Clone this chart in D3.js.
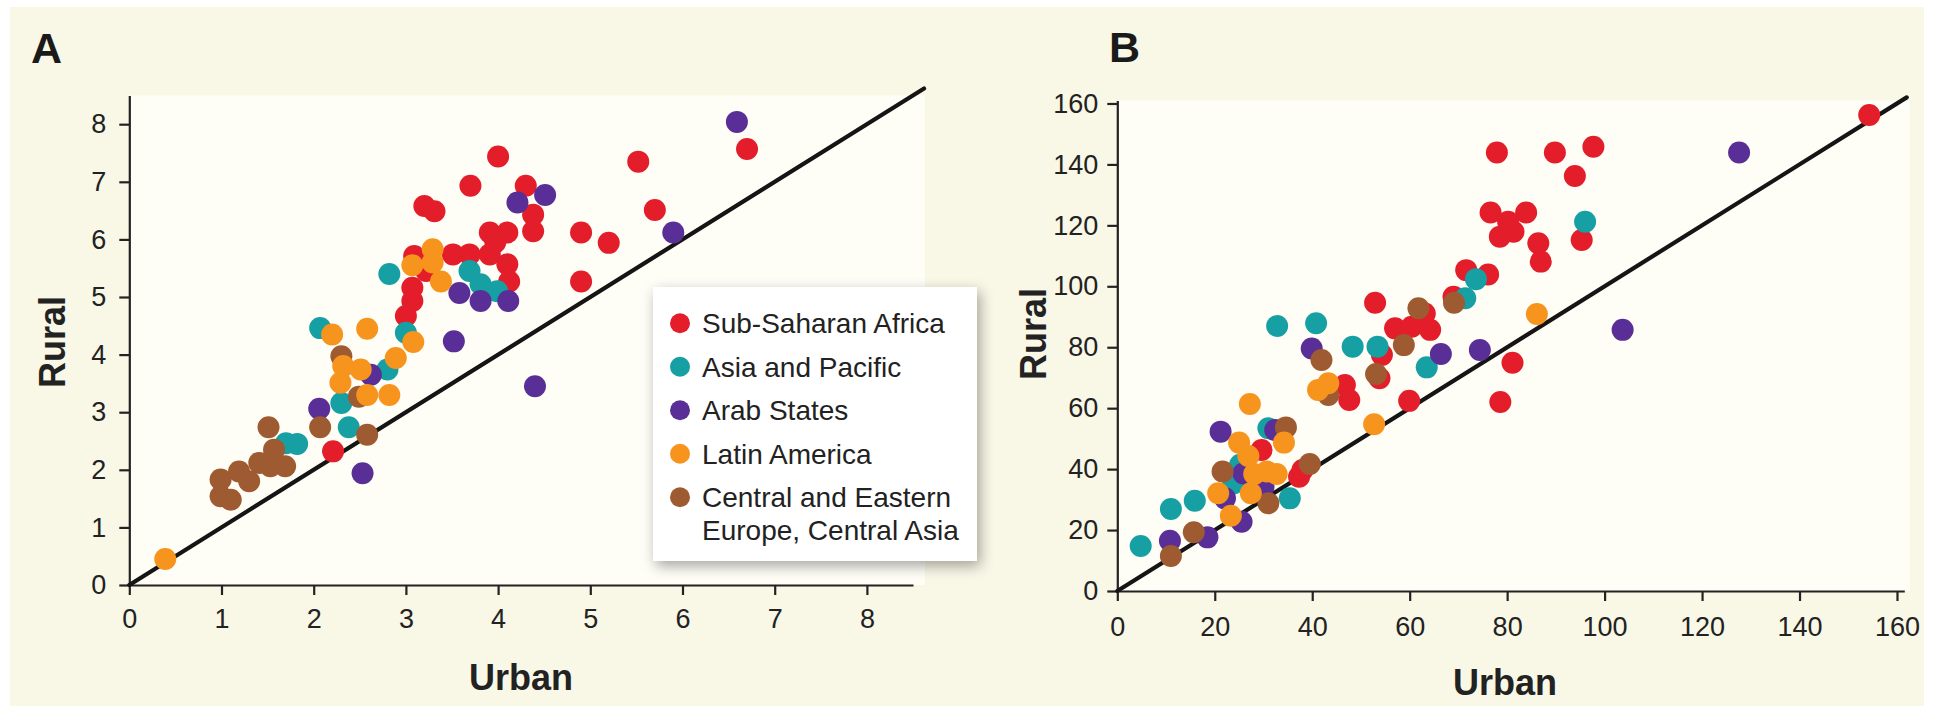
<!DOCTYPE html>
<html><head><meta charset="utf-8">
<script src="https://cdn.jsdelivr.net/npm/d3@7"></script>
<style>body{margin:0;background:#fff;} svg{display:block;}</style>
</head><body>
<svg id="c" width="1934" height="713"></svg>
<script>
// ---------- DATA ----------
const regions = ["Sub-Saharan Africa", "Asia and Pacific", "Arab States", "Latin America", "Central and Eastern Europe, Central Asia"];
const regionColors = ["#e31d2a", "#17a0a3", "#5a2e97", "#f7941e", "#9e5a30"];
const drawOrder = [0, 1, 2, 4, 3];

const aTicks = [0, 1, 2, 3, 4, 5, 6, 7, 8];
const bTicks = [0, 20, 40, 60, 80, 100, 120, 140, 160];

// Panel A: [urban, rural]
const aSubSaharan = [[4.0,7.44],[3.70,6.93],[4.30,6.93],[3.20,6.58],[3.31,6.49],[4.38,6.43],[4.38,6.14],[3.91,6.12],[4.10,6.12],[4.90,6.12],[3.97,5.95],[3.51,5.74],[3.69,5.74],[3.91,5.74],[3.09,5.71],[3.22,5.45],[4.10,5.57],[4.12,5.27],[4.90,5.27],[3.07,5.16],[3.07,4.93],[3.0,4.67],[6.70,7.57],[5.52,7.35],[5.70,6.51],[5.20,5.94],[2.21,2.32]];
const aAsiaPacific = [[3.69,5.45],[3.81,5.22],[3.99,5.10],[2.82,5.40],[3.0,4.38],[2.07,4.46],[2.80,3.74],[2.30,3.16],[2.38,2.74],[1.70,2.46],[1.82,2.45]];
const aArab = [[6.59,8.04],[4.21,6.64],[4.51,6.77],[5.90,6.12],[3.52,4.23],[3.58,5.07],[3.81,4.93],[4.11,4.93],[4.40,3.45],[2.62,3.65],[2.06,3.06],[2.53,1.94]];
const aLatin = [[3.29,5.83],[3.29,5.60],[3.07,5.55],[3.38,5.27],[3.08,4.22],[2.20,4.35],[2.58,4.45],[2.89,3.94],[2.32,3.80],[2.51,3.74],[2.29,3.51],[2.58,3.30],[2.82,3.30],[0.39,0.45]];
const aCEE = [[2.30,3.97],[2.49,3.27],[2.07,2.74],[2.58,2.61],[1.51,2.74],[1.57,2.35],[1.41,2.12],[1.53,2.06],[1.69,2.06],[1.19,1.97],[1.30,1.80],[0.99,1.83],[0.99,1.54],[1.10,1.48]];

// Panel B: [urban, rural]
const bSubSaharan = [[77.9,143.9],[89.8,143.9],[97.7,145.8],[93.9,136.2],[76.6,124.2],[83.9,124.2],[80.2,121.2],[81.3,117.9],[78.5,116.3],[86.4,114.1],[86.9,108.1],[95.3,115.2],[71.6,105.3],[76.1,103.9],[69.0,96.6],[52.9,94.6],[57.0,86.2],[60.4,86.7],[64.2,85.7],[63.1,91.1],[54.3,77.5],[46.7,67.6],[47.6,62.7],[53.8,69.8],[59.9,62.4],[81.1,74.9],[78.6,62.0],[154.3,156.2],[29.6,46.3],[37.3,37.5],[38.0,39.7]];
const bAsiaPacific = [[96.0,121.2],[73.6,102.3],[71.4,96.1],[32.8,87.0],[40.8,87.9],[48.3,80.2],[53.4,80.2],[63.5,73.4],[31.0,53.4],[25.2,41.4],[23.8,35.3],[35.4,30.4],[11.0,26.9],[15.9,29.6],[4.8,14.8]];
const bArab = [[127.6,143.9],[103.7,85.7],[39.9,79.6],[66.4,77.8],[74.4,79.1],[21.2,52.3],[32.4,52.8],[25.9,38.6],[30.0,34.2],[22.1,30.4],[25.5,22.7],[10.8,16.5],[18.5,17.6]];
const bLatin = [[86.1,90.9],[43.3,68.2],[41.2,66.0],[27.2,61.4],[52.7,54.7],[34.2,48.7],[25.0,48.7],[26.9,44.3],[28.1,38.4],[30.7,39.2],[32.7,38.4],[20.7,32.1],[27.4,32.1],[23.3,24.7]];
const bCEE = [[61.8,92.8],[69.1,94.6],[58.8,80.7],[41.9,75.8],[53.1,71.2],[43.3,64.3],[34.6,53.7],[21.6,39.2],[31.0,28.8],[39.5,41.7],[15.7,19.3],[11.0,11.5]];

const aSeries = [aSubSaharan, aAsiaPacific, aArab, aLatin, aCEE];
const bSeries = [bSubSaharan, bAsiaPacific, bArab, bLatin, bCEE];

// ---------- DRAW ----------
const font = "'Liberation Sans', Arial, Helvetica, sans-serif";
const ink = "#222";
const svg = d3.select("#c");

const defs = svg.append("defs");
const f = defs.append("filter").attr("id", "shadow").attr("x", "-20%").attr("y", "-20%").attr("width", "140%").attr("height", "140%");
f.append("feDropShadow").attr("dx", 3).attr("dy", 5).attr("stdDeviation", 7).attr("flood-color", "#000").attr("flood-opacity", 0.35);

svg.append("rect").attr("x", 10).attr("y", 7).attr("width", 1914).attr("height", 699).attr("fill", "#f9f7e6");

function panel(cfg) {
  const x = d3.scaleLinear().domain(cfg.xDomain).range(cfg.xRange);
  const y = d3.scaleLinear().domain(cfg.yDomain).range(cfg.yRange);
  const g = svg.append("g");

  g.append("rect")
    .attr("x", x(0)).attr("y", y(cfg.yDomain[1]))
    .attr("width", cfg.plotRight - x(0)).attr("height", y(0) - y(cfg.yDomain[1]))
    .attr("fill", "#fefdf6");

  const xa = g.append("g").attr("transform", `translate(0,${y(0)})`)
    .call(d3.axisBottom(x).tickValues(cfg.ticks).tickSize(10).tickSizeOuter(0).tickPadding(cfg.xPad));
  const ya = g.append("g").attr("transform", `translate(${x(0)},0)`)
    .call(d3.axisLeft(y).tickValues(cfg.ticks).tickSize(10).tickSizeOuter(0).tickPadding(cfg.yPad));
  [xa, ya].forEach(a => {
    a.select(".domain").attr("stroke", ink).attr("stroke-width", 2.2);
    a.selectAll(".tick line").attr("stroke", ink).attr("stroke-width", 2.2);
    a.selectAll(".tick text").attr("fill", ink).style("font-family", font).style("font-size", "27px");
  });

  // identity line
  g.append("line")
    .attr("x1", x(0)).attr("y1", y(0))
    .attr("x2", x(cfg.lineEnd)).attr("y2", y(cfg.lineEnd))
    .attr("stroke", "#151515").attr("stroke-width", 4.2).attr("stroke-linecap", "round");

  drawOrder.forEach(i => {
    g.append("g").selectAll("circle").data(cfg.series[i]).join("circle")
      .attr("cx", d => x(d[0])).attr("cy", d => y(d[1]))
      .attr("r", 11).attr("fill", regionColors[i]);
  });

  g.append("text").text("Urban")
    .attr("x", cfg.xTitle[0]).attr("y", cfg.xTitle[1]).attr("text-anchor", "middle")
    .style("font-family", font).style("font-size", "36px").style("font-weight", "bold").attr("fill", ink);
  g.append("text").text("Rural")
    .attr("transform", `translate(${cfg.yTitle[0]},${cfg.yTitle[1]}) rotate(-90)`).attr("text-anchor", "middle")
    .style("font-family", font).style("font-size", "36px").style("font-weight", "bold").attr("fill", ink);
  g.append("text").text(cfg.letter)
    .attr("x", cfg.letterPos[0]).attr("y", cfg.letterPos[1])
    .style("font-family", font).style("font-size", "43px").style("font-weight", "bold").attr("fill", "#1a1a1a");
}

panel({
  series: aSeries, ticks: aTicks,
  xDomain: [0, 8.5], xRange: [129.3, 129.3 + 8.5 * 92.2],
  yDomain: [0, 8.5], yRange: [585, 585 - 8.5 * 57.6],
  plotRight: 925, xPad: 14, yPad: 13, lineEnd: 8.62,
  xTitle: [521, 690], yTitle: [65, 342], letter: "A", letterPos: [31, 63]
});

panel({
  series: bSeries, ticks: bTicks,
  xDomain: [0, 161.5], xRange: [1117.3, 1117.3 + 161.5 * 4.873],
  yDomain: [0, 161], yRange: [591, 591 - 161 * 3.047],
  plotRight: 1910, xPad: 16, yPad: 9, lineEnd: 162,
  xTitle: [1505, 695], yTitle: [1046, 334], letter: "B", letterPos: [1109, 62]
});

// ---------- LEGEND ----------
const lg = svg.append("g");
lg.append("rect").attr("x", 653).attr("y", 287).attr("width", 324).attr("height", 274)
  .attr("fill", "#ffffff").attr("filter", "url(#shadow)");
const rowY = [323.3, 366.8, 410.3, 453.8, 497.3];
regions.forEach((name, i) => {
  lg.append("circle").attr("cx", 680).attr("cy", rowY[i]).attr("r", 10).attr("fill", regionColors[i]);
  const t = lg.append("text").attr("x", 702).attr("y", rowY[i] + 10)
    .style("font-family", font).style("font-size", "28px").attr("fill", ink);
  if (i === 4) {
    t.append("tspan").attr("x", 702).text("Central and Eastern");
    t.append("tspan").attr("x", 702).attr("dy", 33).text("Europe, Central Asia");
  } else {
    t.text(name);
  }
});
</script>
</body></html>
